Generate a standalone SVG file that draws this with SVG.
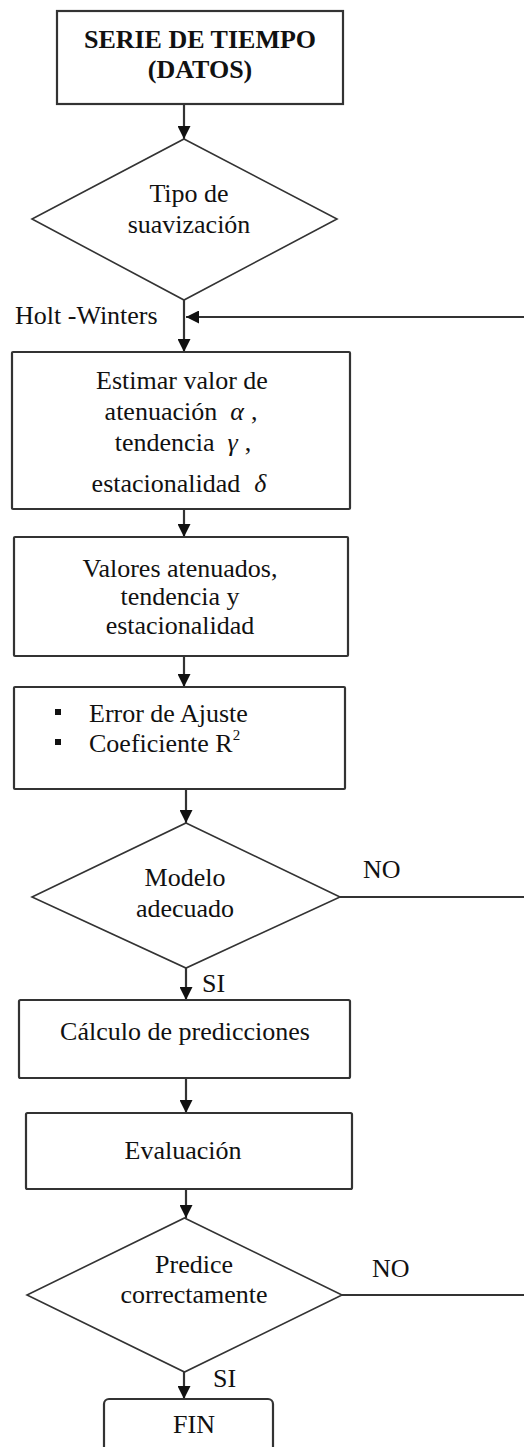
<svg xmlns="http://www.w3.org/2000/svg" width="524" height="1447" viewBox="0 0 524 1447">
<defs>
<style>
.t{font-family:"Liberation Serif","Times New Roman",serif;font-size:26px;fill:#111;text-anchor:middle}
.l{font-family:"Liberation Serif","Times New Roman",serif;font-size:26px;fill:#111}
.b{font-weight:bold}
.g{font-style:italic}
.box{fill:#fff;stroke:#333;stroke-width:2.2}
.dia{fill:#fff;stroke:#333;stroke-width:1.6}
.c{fill:none;stroke:#333;stroke-width:2.2}
</style>
<marker id="ah" markerUnits="userSpaceOnUse" markerWidth="13" markerHeight="13" refX="13" refY="6.5" orient="auto" viewBox="0 0 13 13">
<path d="M0,0 L13,6.5 L0,13 z" fill="#111"/>
</marker>
</defs>
<rect width="524" height="1447" fill="#fff"/>

<g id="connectors">
<line class="c" x1="184" y1="104" x2="184" y2="139" marker-end="url(#ah)"/>
<line class="c" x1="184" y1="300" x2="184" y2="352" marker-end="url(#ah)"/>
<line class="c" x1="524" y1="317" x2="186" y2="317" marker-end="url(#ah)"/>
<line class="c" x1="184" y1="509" x2="184" y2="537" marker-end="url(#ah)"/>
<line class="c" x1="184" y1="656" x2="184" y2="687" marker-end="url(#ah)"/>
<line class="c" x1="186" y1="789" x2="186" y2="823" marker-end="url(#ah)"/>
<line class="c" x1="340" y1="897" x2="524" y2="897"/>
<line class="c" x1="186" y1="968" x2="186" y2="1000" marker-end="url(#ah)"/>
<line class="c" x1="186" y1="1078" x2="186" y2="1113" marker-end="url(#ah)"/>
<line class="c" x1="186" y1="1189" x2="186" y2="1218" marker-end="url(#ah)"/>
<line class="c" x1="342" y1="1295" x2="524" y2="1295"/>
<line class="c" x1="184" y1="1372" x2="184" y2="1399" marker-end="url(#ah)"/>
<text class="l" x="15" y="324">Holt -Winters</text>
<text class="l" x="363" y="878">NO</text>
<text class="l" x="202" y="992">SI</text>
<text class="l" x="372" y="1277">NO</text>
<text class="l" x="213" y="1387">SI</text>
</g>

<g id="serie">
<rect class="box" x="57" y="11" width="286" height="93"/>
<text class="t b" x="200" y="48">SERIE DE TIEMPO</text>
<text class="t b" x="200" y="78">(DATOS)</text>
</g>

<g id="tipo">
<polygon class="dia" points="184,139 337,219 184,300 32,219"/>
<text class="t" x="189" y="202">Tipo de</text>
<text class="t" x="189" y="233">suavización</text>
</g>

<g id="estimar">
<rect class="box" x="12" y="352" width="338" height="157" rx="1"/>
<text class="t" x="182" y="389">Estimar valor de</text>
<text class="t" x="181" y="420">atenuación<tspan class="g" dx="13">α</tspan><tspan dx="7">,</tspan></text>
<text class="t" x="183" y="451">tendencia<tspan class="g" dx="13">γ</tspan><tspan dx="7">,</tspan></text>
<text class="t" x="179" y="492">estacionalidad<tspan class="g" dx="14">δ</tspan></text>
</g>

<g id="valores">
<rect class="box" x="14" y="537" width="334" height="119" rx="1"/>
<text class="t" x="180" y="577">Valores atenuados,</text>
<text class="t" x="180" y="605">tendencia y</text>
<text class="t" x="180" y="634">estacionalidad</text>
</g>

<g id="error">
<rect class="box" x="14" y="687" width="331" height="102" rx="1"/>
<rect x="55" y="709" width="6" height="6" fill="#111"/>
<rect x="55" y="739" width="6" height="6" fill="#111"/>
<text class="l" x="89" y="722">Error de Ajuste</text>
<text class="l" x="89" y="752">Coeficiente R<tspan font-size="15" dy="-12">2</tspan></text>
</g>

<g id="modelo">
<polygon class="dia" points="186,823 340,897 186,968 32,897"/>
<text class="t" x="185" y="886">Modelo</text>
<text class="t" x="185" y="917">adecuado</text>
</g>

<g id="calculo">
<rect class="box" x="19" y="1000" width="331" height="78" rx="1.5"/>
<text class="t" x="185" y="1040">Cálculo de predicciones</text>
</g>

<g id="evaluacion">
<rect class="box" x="26" y="1113" width="326" height="76" rx="1.5"/>
<text class="t" x="183" y="1159">Evaluación</text>
</g>

<g id="predice">
<polygon class="dia" points="184.5,1218 342,1295 184.5,1372 27,1295"/>
<text class="t" x="194" y="1273">Predice</text>
<text class="t" x="194" y="1303">correctamente</text>
</g>

<g id="fin">
<rect class="box" x="104" y="1399" width="169" height="70" rx="5"/>
<text class="t" x="194" y="1433">FIN</text>
</g>
</svg>
